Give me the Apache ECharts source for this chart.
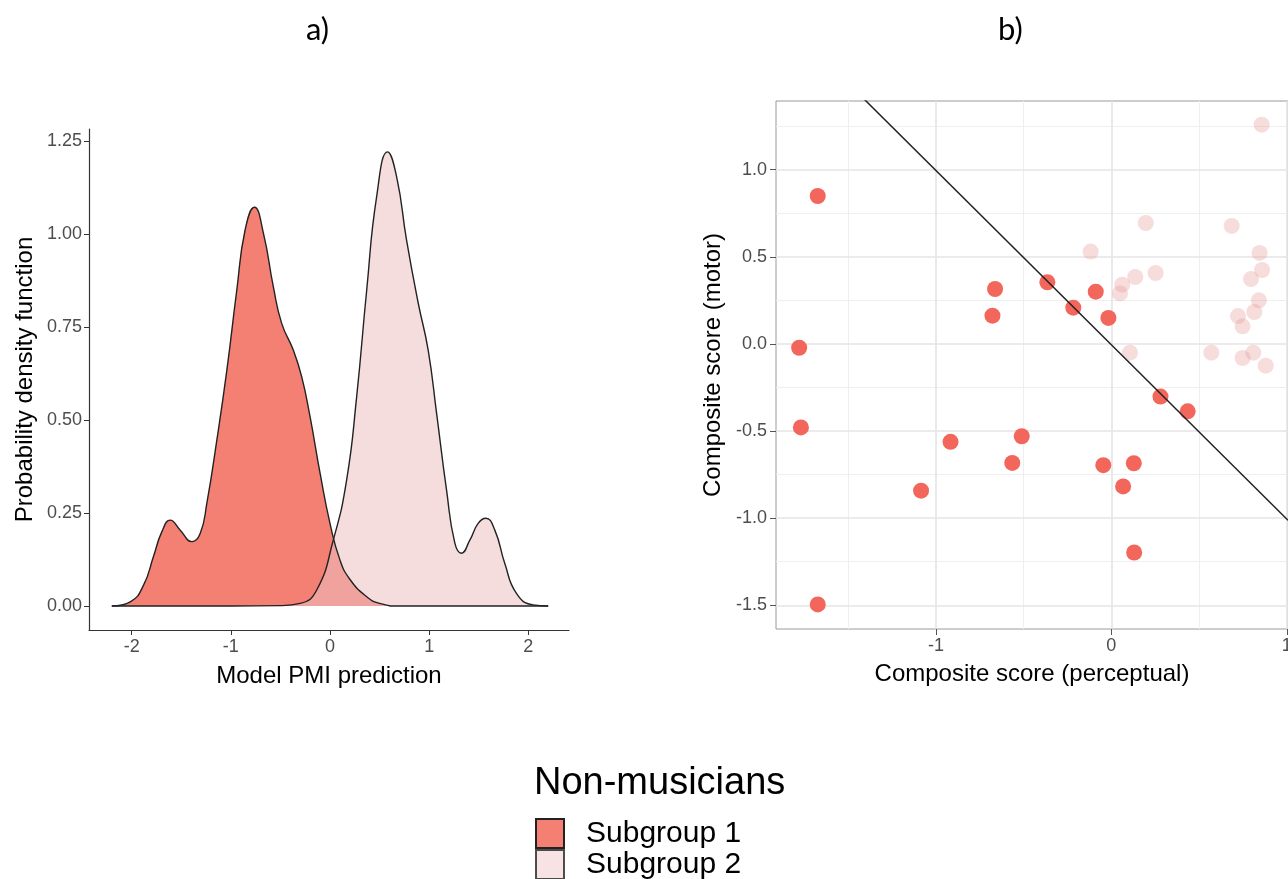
<!DOCTYPE html>
<html>
<head>
<meta charset="utf-8">
<script src="https://cdn.jsdelivr.net/npm/echarts@6/dist/echarts.min.js"></script>
<style>
html,body{margin:0;padding:0;background:#fff;}
#chart{width:1288px;height:879px;}
</style>
</head>
<body>
<div id="chart"></div>
<script>
// ---- Panel a) density curves ----
const dens1X = [-2.2, -2.01, -1.88, -1.78, -1.695, -1.611, -1.51, -1.393, -1.309, -1.242, -1.141, -1.04, -0.94, -0.856, -0.762, -0.671, -0.571, -0.487, -0.37, -0.285, -0.201, -0.1, 0.0, 0.1, 0.2, 0.37, 0.5, 0.7, 1.2, 2.2];
const dens1Y = [0, 0.012, 0.056, 0.133, 0.2, 0.231, 0.204, 0.173, 0.195, 0.276, 0.446, 0.634, 0.849, 1.011, 1.072, 1.002, 0.858, 0.76, 0.688, 0.616, 0.509, 0.357, 0.222, 0.124, 0.072, 0.025, 0.007, 0, 0, 0];
const dens2X = [-2.2, -1.0, -0.5, -0.3, -0.134, 0.033, 0.168, 0.269, 0.37, 0.47, 0.581, 0.672, 0.772, 0.89, 0.99, 1.075, 1.175, 1.259, 1.326, 1.41, 1.494, 1.571, 1.662, 1.762, 1.88, 2.047, 2.2];
const dens2Y = [0, 0, 0.001, 0.007, 0.043, 0.177, 0.339, 0.563, 0.849, 1.1, 1.221, 1.154, 0.984, 0.814, 0.688, 0.518, 0.312, 0.169, 0.142, 0.177, 0.222, 0.236, 0.204, 0.115, 0.034, 0.003, 0];
const aXTicks = [-2, -1, 0, 1, 2];
const aYTicks = [0, 0.25, 0.5, 0.75, 1.0, 1.25];

// ---- Panel b) scatter ----
const s1X = [-1.674, -1.780, -1.770, -1.674, -1.085, -0.917, -0.663, -0.678, -0.565, -0.511, -0.365, -0.217, -0.089, -0.017, -0.046, 0.128, 0.067, 0.130, 0.280, 0.435];
const s1Y = [0.849, -0.022, -0.479, -1.495, -0.842, -0.562, 0.315, 0.162, -0.683, -0.530, 0.354, 0.208, 0.300, 0.149, -0.696, -0.685, -0.818, -1.197, -0.302, -0.387];
const s2X = [0.857, 0.196, 0.686, -0.118, 0.845, 0.859, 0.796, 0.252, 0.136, 0.062, 0.049, 0.841, 0.815, 0.722, 0.748, 0.106, 0.570, 0.809, 0.748, 0.880];
const s2Y = [1.258, 0.694, 0.677, 0.530, 0.522, 0.424, 0.372, 0.407, 0.384, 0.340, 0.290, 0.250, 0.183, 0.160, 0.101, -0.050, -0.050, -0.050, -0.081, -0.125];
const fitSlope = -1.0;
const fitIntercept = -0.005;
const bXTicks = [-1, 0, 1];
const bYTicks = [-1.5, -1.0, -0.5, 0.0, 0.5, 1.0];
const bXMinor = [-1.5, -0.5, 0.5];
const bYMinor = [-1.25, -0.75, -0.25, 0.25, 0.75, 1.25];

const seriesNames = ['Subgroup 1', 'Subgroup 2'];
const legendTitle = 'Non-musicians';

const FONT = '"Liberation Sans", Arial, sans-serif';
const aX = [-2.43, 2.41], aY = [-0.0645, 1.2825];
const bX = [-1.912, 1.007], bY = [-1.636, 1.394];

const zip = (xs, ys) => xs.map((x, i) => [x, ys[i]]);

const chart = echarts.init(document.getElementById('chart'), null, {renderer: 'canvas'});

const gridLines = [];
bXMinor.forEach(v => gridLines.push({xAxis: v, lineStyle: {color: '#efefef', width: 1}}));
bYMinor.forEach(v => gridLines.push({yAxis: v, lineStyle: {color: '#efefef', width: 1}}));
bXTicks.forEach(v => gridLines.push({xAxis: v, lineStyle: {color: '#e4e4e4', width: 1.6}}));
bYTicks.forEach(v => gridLines.push({yAxis: v, lineStyle: {color: '#e4e4e4', width: 1.6}}));

const tickLabel = {fontFamily: FONT, fontSize: 18, color: '#4d4d4d'};

chart.setOption({
  animation: false,
  backgroundColor: '#fff',
  graphic: [
    {type: 'text', left: 306, top: 14, style: {text: 'a)', fontFamily: 'Lato, "Open Sans", sans-serif', fontSize: 31, fill: '#000'}},
    {type: 'text', left: 998, top: 14, style: {text: 'b)', fontFamily: 'Lato, "Open Sans", sans-serif', fontSize: 31, fill: '#000'}},
    {type: 'text', left: 534, top: 765, style: {text: legendTitle, fontFamily: FONT, fontSize: 38, fill: '#000'}}
  ],
  legend: {
    orient: 'vertical',
    left: 535, top: 818, height: 120, padding: 0,
    itemWidth: 28, itemHeight: 29, itemGap: 0,
    icon: 'rect',
    selectedMode: false,
    textStyle: {fontFamily: FONT, fontSize: 30, color: '#000', lineHeight: 29, height: 29, padding: [0, 0, 0, 17]},
    data: [
      {name: seriesNames[0], itemStyle: {color: '#F47F73', borderColor: '#222', borderWidth: 2}},
      {name: seriesNames[1], itemStyle: {color: '#F5DCDD', borderColor: '#222', borderWidth: 2}}
    ]
  },
  grid: [
    {left: 89, top: 129, width: 480, height: 501, containLabel: false, outerBoundsMode: 'none'},
    {left: 776, top: 101, width: 512, height: 528, containLabel: false, outerBoundsMode: 'none',
     show: true, borderColor: '#9a9a9a', borderWidth: 1, backgroundColor: 'transparent'}
  ],
  xAxis: [
    {type: 'value', gridIndex: 0, min: aX[0], max: aX[1],
     name: 'Model PMI prediction', nameLocation: 'middle', nameGap: 34,
     nameTextStyle: {fontFamily: FONT, fontSize: 24, color: '#000'},
     axisLine: {show: true, onZero: false, lineStyle: {color: '#333', width: 1.2}},
     axisTick: {show: true, length: 5, lineStyle: {color: '#333'}, customValues: aXTicks},
     axisLabel: {show: true, margin: 8, customValues: aXTicks, formatter: v => String(v), ...tickLabel},
     splitLine: {show: false}},
    {type: 'value', gridIndex: 1, min: bX[0], max: bX[1],
     name: 'Composite score (perceptual)', nameLocation: 'middle', nameGap: 33,
     nameTextStyle: {fontFamily: FONT, fontSize: 24, color: '#000'},
     axisLine: {show: false, onZero: false},
     axisTick: {show: true, length: 6, lineStyle: {color: '#555'}, customValues: bXTicks},
     axisLabel: {show: true, margin: 8, customValues: bXTicks, formatter: v => String(v), ...tickLabel},
     splitLine: {show: false}}
  ],
  yAxis: [
    {type: 'value', gridIndex: 0, min: aY[0], max: aY[1],
     name: 'Probability density function', nameLocation: 'middle', nameGap: 52,
     nameTextStyle: {fontFamily: FONT, fontSize: 24, color: '#000'},
     axisLine: {show: true, onZero: false, lineStyle: {color: '#333', width: 1.2}},
     axisTick: {show: true, length: 5, lineStyle: {color: '#333'}, customValues: aYTicks},
     axisLabel: {show: true, margin: 7, customValues: aYTicks, formatter: v => v.toFixed(2), ...tickLabel},
     splitLine: {show: false}},
    {type: 'value', gridIndex: 1, min: bY[0], max: bY[1],
     name: 'Composite score (motor)', nameLocation: 'middle', nameGap: 51,
     nameTextStyle: {fontFamily: FONT, fontSize: 24, color: '#000'},
     axisLine: {show: false, onZero: false},
     axisTick: {show: true, length: 6, lineStyle: {color: '#555'}, customValues: bYTicks},
     axisLabel: {show: true, margin: 9, customValues: bYTicks, formatter: v => v.toFixed(1), ...tickLabel},
     splitLine: {show: false}}
  ],
  series: [
    {name: seriesNames[0], type: 'scatter', xAxisIndex: 1, yAxisIndex: 1, z: 3,
     symbol: 'circle', symbolSize: 16, itemStyle: {color: '#F2665B', opacity: 1},
     data: zip(s1X, s1Y)},
    {name: seriesNames[1], type: 'scatter', xAxisIndex: 1, yAxisIndex: 1, z: 3,
     symbol: 'circle', symbolSize: 16, itemStyle: {color: 'rgba(232,150,150,0.42)'},
     data: zip(s2X, s2Y)},
    {name: 'grid', type: 'line', xAxisIndex: 1, yAxisIndex: 1, z: 0, data: [],
     markLine: {silent: true, z: 0, zlevel: 0, symbol: ['none', 'none'], label: {show: false}, animation: false,
                lineStyle: {type: 'solid'}, data: gridLines}},
    {name: 'fit', type: 'line', xAxisIndex: 1, yAxisIndex: 1, z: 4, clip: true,
     symbol: 'none', lineStyle: {color: '#222', width: 1.5},
     data: bX.map(x => [x, fitSlope * x + fitIntercept])},
    {name: 'dens1', type: 'line', xAxisIndex: 0, yAxisIndex: 0, z: 2,
     smooth: 0.5, symbol: 'none',
     lineStyle: {color: '#222', width: 1.4},
     areaStyle: {color: '#F47F73', opacity: 1, origin: 0},
     data: zip(dens1X, dens1Y)},
    {name: 'dens2', type: 'line', xAxisIndex: 0, yAxisIndex: 0, z: 2,
     smooth: 0.5, symbol: 'none',
     lineStyle: {color: '#222', width: 1.4},
     areaStyle: {color: 'rgba(237,191,193,0.55)', opacity: 1, origin: 0},
     data: zip(dens2X, dens2Y)}
  ]
});
</script>
</body>
</html>
